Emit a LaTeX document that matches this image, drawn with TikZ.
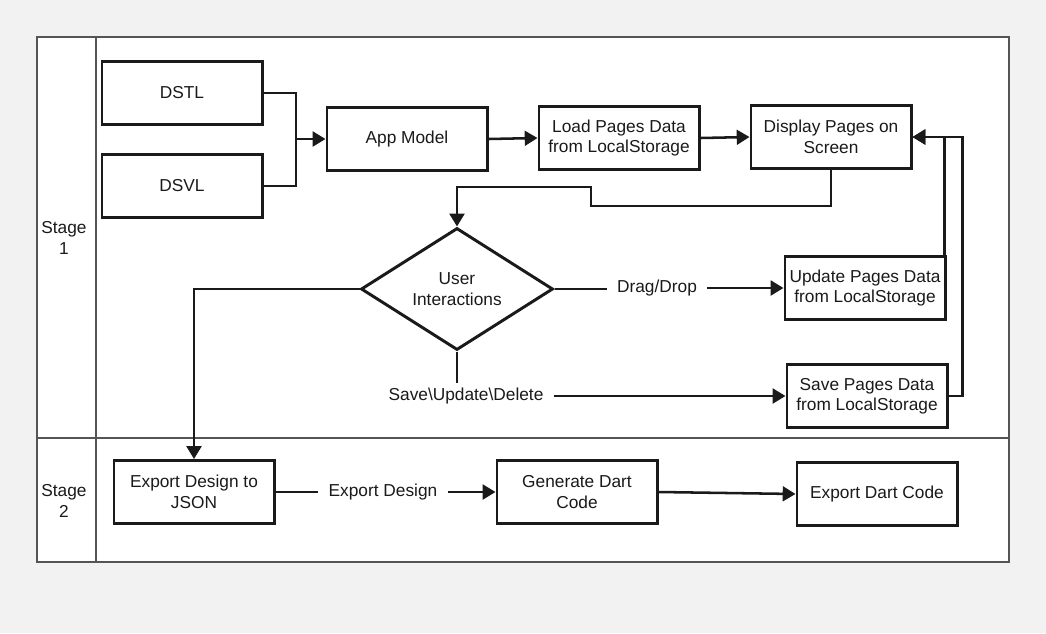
\documentclass[tikz,border=0pt]{standalone}
\usepackage{fontspec}
\setmainfont{Liberation Sans}
\usepackage{tikz}
\usetikzlibrary{shapes,arrows.meta,positioning}
\definecolor{pagegray}{RGB}{242,242,242}
\definecolor{lanegray}{RGB}{85,85,85}
\definecolor{ink}{RGB}{26,26,26}

\begin{document}
\begin{tikzpicture}[x=0.025cm, y=-0.025cm,
	every node/.style={font=\fontsize{12.3}{14.5}\selectfont, text=ink},
	box/.style={draw=ink, line width=2.1pt, fill=white, minimum width=4cm, minimum height=1.575cm, align=center, inner sep=2pt},
	link/.style={draw=ink, line width=1.8pt},
	arr/.style={link, -{Triangle[length=0.32cm, width=0.37cm]}},
	lbl/.style={inner sep=0.25cm}]
			\fill[pagegray] (0,0) rectangle (1046,633);
			\draw[lanegray, line width=0.9pt, fill=white] (37,37) rectangle (1009,562);
			\draw[lanegray, line width=0.9pt] (96,37) -- (96,562) (37,438) -- (1009,438);
			\node[align=center] (s1) at (64,238) {Stage\\1};
			\node[align=center] (s2) at (64,501) {Stage\\2};
			
			\node[box] (dstl) at (182,93) {DSTL};
			\node[box] (dsvl) at (182,186) {DSVL};
			\node[box] (appmodel) at (407,139) {App Model};
			\node[box] (load) at (619,138) {Load Pages Data\\from LocalStorage};
			\node[box] (display) at (831,137) {Display Pages on\\Screen};
			\node[diamond, draw=ink, line width=2.1pt, fill=white, minimum width=4.8cm, minimum height=3.05cm, inner sep=0pt, aspect=1.6, align=center] (ui) at (457,289) {User\\Interactions};
			\node[box] (update) at (865,288) {Update Pages Data\\from LocalStorage};
			\node[box] (save) at (867,396) {Save Pages Data\\from LocalStorage};
			\node[box] (ejson) at (194,492) {Export Design to\\JSON};
			\node[box] (gencode) at (577,492) {Generate Dart\\Code};
			\node[box] (edart) at (877,494) {Export Dart Code};
			
			\node[lbl] (dd) at (657,288) {Drag/Drop};
			\node[lbl] (sud) at (466,396) {Save\textbackslash Update\textbackslash Delete};
			\node[lbl] (exd) at (383,492) {Export Design};
			
			\coordinate (join) at (296,139);
			\coordinate (bend) at (457,187);
			\draw[link] (dstl.east) -| (join);
			\draw[link] (dsvl.east) -| (join);
			\draw[arr] (join) -- (appmodel.west);
			\draw[arr] (appmodel.east) -- (load.west);
			\draw[arr] (load.east) -- (display.west);
			\draw[arr] (display.south) |- (591,206) |- (bend) -- (ui.north);
			
			\draw[link] (ui.east) -- (ui.east -| dd.west);
			\draw[arr] (dd.east) -- (update.west);
			\draw[arr] ([xshift=-0.05cm]update.north east) |- (display.east);
			\draw[link] (ui.south) -- ++(0,31);
			\draw[arr] (sud.east) -- (save.west);
			\draw[arr] (save.east) -- ++(14,0) |- (display.east);
			\draw[arr] (ui.west) -| (ejson.north);
			
			\draw[link] (ejson.east) -- (exd.west);
			\draw[arr] (exd.east) -- (gencode.west);
			\draw[arr] (gencode.east) -- (edart.west);
		\end{tikzpicture}
\end{document}
